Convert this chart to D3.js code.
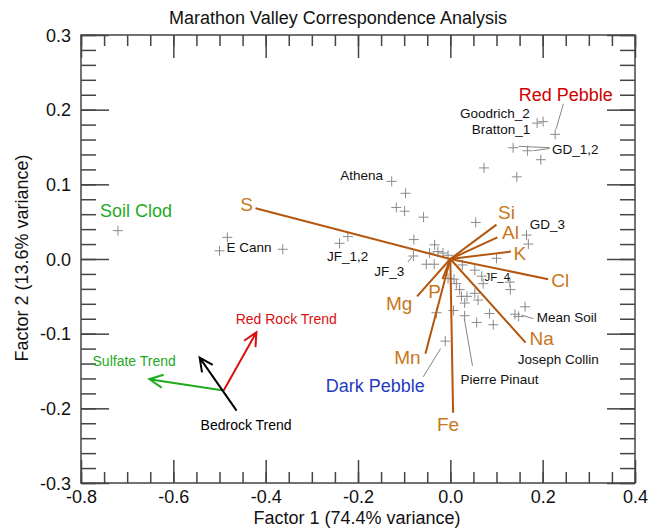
<!DOCTYPE html>
<html><head><meta charset="utf-8">
<script src="https://cdn.jsdelivr.net/npm/d3@7"></script>
<style>body{margin:0;background:#fff}svg{display:block}text{font-family:"Liberation Sans",Arial,sans-serif}</style>
</head><body><svg id="c" width="649" height="531"></svg>
<script>
// ---- data (data units) ----
const sampleX = [-0.720,-0.483,-0.500,-0.363,-0.222,-0.240,-0.127,-0.097,-0.117,-0.099,-0.058,-0.079,-0.034,-0.027,-0.045,-0.080,-0.052,-0.035,-0.016,-0.005,0.055,0.165,0.169,0.100,0.026,0.053,0.068,0.071,0.129,0.130,-0.005,0.013,0.008,0.020,0.024,0.036,0.053,0.060,0.031,0.031,0.007,-0.030,0.057,0.085,0.093,0.140,0.148,0.162,-0.011,0.188,0.201,0.227,0.136,0.167,0.196,0.073,0.144];
const sampleY = [0.038,0.029,0.011,0.013,0.030,0.021,0.104,0.088,0.069,0.064,0.056,0.026,0.019,0.010,0.008,0.004,-0.007,-0.007,0.008,0.005,0.049,0.032,0.020,0.001,-0.008,-0.015,-0.023,-0.033,-0.031,-0.041,-0.026,-0.033,-0.027,-0.041,-0.050,-0.050,-0.046,-0.055,-0.059,-0.076,-0.069,-0.072,-0.085,-0.073,-0.088,-0.074,-0.077,-0.064,-0.110,0.182,0.184,0.167,0.149,0.145,0.133,0.122,0.110];

const elements = ["S","Si","Al","K","Cl","Na","Fe","Mn","Mg","P"];
const elemX = [-0.422,0.100,0.102,0.131,0.212,0.163,0.006,-0.054,-0.072,-0.017];
const elemY = [0.068,0.046,0.029,0.010,-0.027,-0.112,-0.206,-0.127,-0.050,-0.027];

const trendNames = ["Red Rock Trend","Sulfate Trend","Bedrock Trend"];
const trendX0 = [-0.491,-0.491,-0.463];
const trendY0 = [-0.176,-0.176,-0.203];
const trendX1 = [-0.420,-0.652,-0.543];
const trendY1 = [-0.098,-0.161,-0.132];

const xTicks = [-0.8,-0.6,-0.4,-0.2,0.0,0.2,0.4];
const yTicks = [-0.3,-0.2,-0.1,0.0,0.1,0.2,0.3];

// annotations: text, anchor point in data units
const sampleLabels = [
  ["Goodrich_2",0.172,0.195,"end"],["Bratton_1",0.173,0.174,"end"],["GD_1,2",0.220,0.147,"start"],
  ["GD_3",0.172,0.046,"start"],["Athena",-0.146,0.112,"end"],["E Cann",-0.485,0.016,"start"],
  ["JF_1,2",-0.267,0.003,"start"],["JF_3",-0.165,-0.017,"start"],["Mean Soil",0.187,-0.079,"start"],
  ["Joseph Collin",0.146,-0.134,"start"],["Pierre Pinaut",0.022,-0.162,"start"]
];
const groupLabels = [
  ["Red Pebble",0.148,0.220,"#d00000"],["Soil Clod",-0.759,0.064,"#1faa1f"],["Dark Pebble",-0.270,-0.170,"#1f3cbf"]
];
const leaders = [
  [0.245,0.208,0.229,0.174],[0.215,0.149,0.148,0.151],[0.215,0.148,0.180,0.145],
  [-0.092,-0.004,-0.083,0.003],[-0.059,-0.158,-0.021,-0.120],[0.048,-0.143,0.030,-0.079],
  [0.180,-0.080,0.154,-0.075]
];

// ---- layout ----
const L=81,R=635,T=35,B=483;
const svg=d3.select("#c");
const x=d3.scaleLinear().domain([-0.8,0.4]).range([L,R]);
const y=d3.scaleLinear().domain([-0.3,0.3]).range([B,T]);
const axisCol="#444";
const fmt=d=>d.toFixed(1);
const xMinor=d3.range(-0.8,0.4001,0.05).map(v=>+v.toFixed(2));
const yMinor=d3.range(-0.3,0.3001,0.02).map(v=>+v.toFixed(2));

function styleAx(g){g.select(".domain").remove();g.selectAll("line").attr("stroke",axisCol).attr("stroke-width",1.5);}
// minor ticks
svg.append("g").attr("transform",`translate(0,${B})`).call(d3.axisBottom(x).tickValues(xMinor).tickSize(-11).tickSizeOuter(0).tickFormat("")).call(styleAx);
svg.append("g").attr("transform",`translate(0,${T})`).call(d3.axisTop(x).tickValues(xMinor).tickSize(-11).tickSizeOuter(0).tickFormat("")).call(styleAx);
svg.append("g").attr("transform",`translate(${L},0)`).call(d3.axisLeft(y).tickValues(yMinor).tickSize(-15).tickSizeOuter(0).tickFormat("")).call(styleAx);
svg.append("g").attr("transform",`translate(${R},0)`).call(d3.axisRight(y).tickValues(yMinor).tickSize(-15).tickSizeOuter(0).tickFormat("")).call(styleAx);
// major ticks
const gb=svg.append("g").attr("transform",`translate(0,${B})`).call(d3.axisBottom(x).tickValues(xTicks).tickSize(-23).tickSizeOuter(0).tickFormat(fmt)).call(styleAx);
gb.selectAll("text").attr("y",14).attr("dy","0.35em").attr("font-size",18).attr("fill","#111").attr("font-family","Liberation Sans, Arial, sans-serif");
svg.append("g").attr("transform",`translate(0,${T})`).call(d3.axisTop(x).tickValues(xTicks).tickSize(-23).tickSizeOuter(0).tickFormat("")).call(styleAx);
const gl=svg.append("g").attr("transform",`translate(${L},0)`).call(d3.axisLeft(y).tickValues(yTicks).tickSize(-28).tickSizeOuter(0).tickFormat(fmt)).call(styleAx);
gl.selectAll("text").attr("x",-10).attr("dy","0.35em").attr("font-size",18).attr("fill","#111").attr("font-family","Liberation Sans, Arial, sans-serif");
svg.append("g").attr("transform",`translate(${R},0)`).call(d3.axisRight(y).tickValues(yTicks).tickSize(-28).tickSizeOuter(0).tickFormat("")).call(styleAx);
svg.append("rect").attr("x",L).attr("y",T).attr("width",R-L).attr("height",B-T).attr("fill","none").attr("stroke",axisCol).attr("stroke-width",1.5);

// titles
svg.append("text").attr("x",338).attr("y",18).attr("text-anchor","middle").attr("dominant-baseline","central").attr("font-size",18).attr("fill","#111").text("Marathon Valley Correspondence Analysis");
svg.append("text").attr("x",357).attr("y",518).attr("text-anchor","middle").attr("dominant-baseline","central").attr("font-size",18).attr("fill","#111").text("Factor 1 (74.4% variance)");
svg.append("text").attr("transform","translate(22,258) rotate(-90)").attr("text-anchor","middle").attr("dominant-baseline","central").attr("font-size",18).attr("fill","#111").text("Factor 2 (13.6% variance)");

// leader lines
svg.append("g").selectAll("line").data(leaders).join("line")
  .attr("x1",d=>x(d[0])).attr("y1",d=>y(d[1])).attr("x2",d=>x(d[2])).attr("y2",d=>y(d[3]))
  .attr("stroke","#777").attr("stroke-width",0.9);

// sample points as +
const pts=svg.append("g");
sampleX.forEach((sx,i)=>{
  const px=x(sx),py=y(sampleY[i]),s=5;
  pts.append("path").attr("d",`M${px-s},${py}H${px+s}M${px},${py-s}V${py+s}`).attr("stroke","#8a8a8a").attr("stroke-width",1).attr("fill","none");
});

// element vectors
const elemOff={S:[-9,-4],Si:[10,-12],Al:[13,-5],K:[9,2],Cl:[12,1],Na:[16,-4],Fe:[-5,12],Mn:[-18,4],Mg:[-18,7],P:[-8,12]};
const eg=svg.append("g");
elements.forEach((e,i)=>{
  eg.append("line").attr("x1",x(0)).attr("y1",y(0)).attr("x2",x(elemX[i])).attr("y2",y(elemY[i]))
    .attr("stroke","#b4560e").attr("stroke-width",2);
});
elements.forEach((e,i)=>{
  eg.append("text").attr("x",x(elemX[i])+elemOff[e][0]).attr("y",y(elemY[i])+elemOff[e][1])
    .attr("text-anchor","middle").attr("dominant-baseline","central").attr("font-size",19).attr("fill","#c8771c").text(e);
});

// trend arrows
const trendCol=["#d81010","#1faa1f","#000"];
trendNames.forEach((t,i)=>{
  const x0=x(trendX0[i]),y0=y(trendY0[i]),x1=x(trendX1[i]),y1=y(trendY1[i]);
  const a=Math.atan2(y1-y0,x1-x0),h=15,w=Math.PI/7;
  svg.append("path").attr("d",`M${x0},${y0}L${x1},${y1}M${x1-h*Math.cos(a-w)},${y1-h*Math.sin(a-w)}L${x1},${y1}L${x1-h*Math.cos(a+w)},${y1-h*Math.sin(a+w)}`)
    .attr("stroke",trendCol[i]).attr("stroke-width",2).attr("fill","none");
});
const trendLab=[[-0.465,-0.081],[-0.775,-0.137],[-0.541,-0.222]];
trendNames.forEach((t,i)=>{
  svg.append("text").attr("x",x(trendLab[i][0])).attr("y",y(trendLab[i][1])).attr("dominant-baseline","central")
    .attr("font-size",14).attr("fill",trendCol[i]).text(t);
});

// sample labels
svg.append("g").selectAll("text").data(sampleLabels).join("text")
  .attr("x",d=>x(d[1])).attr("y",d=>y(d[2])).attr("text-anchor",d=>d[3]).attr("dominant-baseline","central")
  .attr("font-size",13.5).attr("fill","#111").text(d=>d[0]);
svg.append("text").attr("x",x(0.074)).attr("y",y(-0.024)).attr("dominant-baseline","central").attr("font-size",11.5).attr("fill","#111").text("JF_4");
// group labels
svg.append("g").selectAll("text").data(groupLabels).join("text")
  .attr("x",d=>x(d[1])).attr("y",d=>y(d[2])).attr("dominant-baseline","central")
  .attr("font-size",18).attr("fill",d=>d[3]).text(d=>d[0]);
</script></body></html>
